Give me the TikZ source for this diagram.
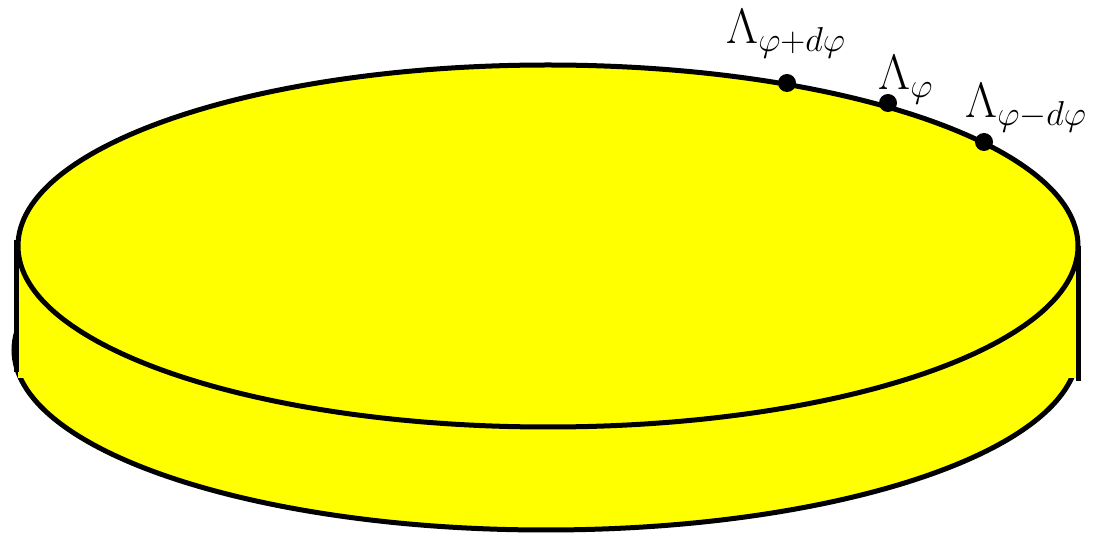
\documentclass[tikz,border=0pt]{standalone}
\usepackage{amsmath}
\usetikzlibrary{positioning}
\definecolor{diskfill}{HTML}{FFFF00}
\tikzset{
  rim/.style={draw=black, line width=2.5pt},
  face/.style={rim, fill=diskfill},
  pt/.style={circle, fill=black, inner sep=0pt, minimum size=9pt},
  lbl/.style={inner sep=0pt, anchor=base west, font=\fontsize{24}{29}\selectfont},
}
\begin{document}
\begin{tikzpicture}[x=0.5pt, y=-0.5pt]
\useasboundingbox (0,0) rectangle (1105,534);

% ---- disk: bottom rim, side, top face ---------------------------------------
\draw[face] (546,350) ellipse [x radius=532, y radius=180];
\fill[diskfill] (18,246) rectangle (1076,378);
\draw[face] (548,246) ellipse [x radius=530, y radius=181];
\draw[rim] (16,240) -- (16,372);
\draw[rim] (1078,246) -- (1078,381);

% ---- points on the rim --------------------------------------------------------
\node[pt] (pplus) at (787,83) {};
\node[pt] (pmid) at (888,103) {};
\node[pt] (pminus) at (984,142) {};

\node[lbl] (lplus) at (726,44) {$\Lambda_{\varphi+d\varphi}$};
\node[lbl] (lmid) at (878,90) {$\Lambda_{\varphi}$};
\node[lbl] (lminus) at (965,118) {$\Lambda_{\varphi-d\varphi}$};
\end{tikzpicture}
\end{document}
